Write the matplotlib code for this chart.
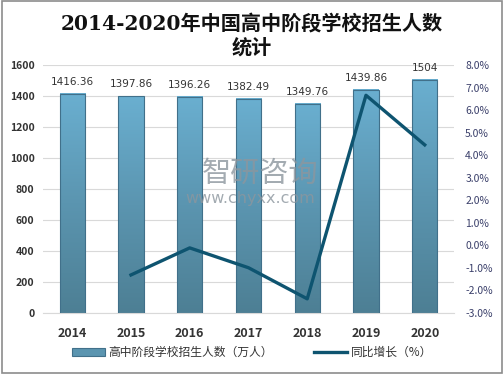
import numpy as np
import matplotlib
matplotlib.use("Agg")
import matplotlib.pyplot as plt
from matplotlib.colors import LinearSegmentedColormap
from matplotlib.patches import Rectangle
from matplotlib.lines import Line2D

plt.rcParams['font.family'] = ['Noto Sans CJK SC', 'DejaVu Sans']

years = ["2014", "2015", "2016", "2017", "2018", "2019", "2020"]
enroll = [1416.36, 1397.86, 1396.26, 1382.49, 1349.76, 1439.86, 1504]
enroll_labels = ["1416.36", "1397.86", "1396.26", "1382.49", "1349.76", "1439.86", "1504"]
growth_years = ["2015", "2016", "2017", "2018", "2019", "2020"]
growth = [-1.31, -0.11, -0.99, -2.37, 6.66, 4.46]

fig = plt.figure(figsize=(5.04, 3.74), dpi=100)
fig.patches.append(Rectangle((0.003, 0.003), 0.994, 0.994, transform=fig.transFigure,
                             fill=False, ec="#8c8c8c", lw=1.2))
ax = fig.add_axes([0.085, 0.163, 0.816, 0.663])
ax2 = ax.twinx()

x = np.arange(len(years))
w = 0.43
cmap = LinearSegmentedColormap.from_list("b", ["#4d7f94", "#5b95b0", "#6aafd0"])
grad = np.linspace(0, 1, 256).reshape(-1, 1)
for xi, v, lab in zip(x, enroll, enroll_labels):
    ax.imshow(grad, cmap=cmap, origin="lower", aspect="auto",
              extent=[xi - w/2, xi + w/2, 0, v], zorder=2)
    ax.add_patch(Rectangle((xi - w/2, 0), w, v, fill=False, ec="#41708a", lw=0.8, zorder=3))
    ax.text(xi, v + 45, lab, ha="center", va="bottom", fontsize=7.5, color="#333333",
            family="DejaVu Sans", zorder=4)

ax.set_xlim(-0.5, 6.5)
ax.set_ylim(0, 1600)
ax.set_yticks(range(0, 1601, 200))
ax.grid(axis="y", color="#d9d9d9", lw=0.8, zorder=0)
ax.set_axisbelow(True)
ax.set_xticks(x)
ax.set_xticklabels(years, fontsize=9, fontweight="bold", color="#333333")
ax.tick_params(axis="y", labelsize=7.5, colors="#333333", length=0, pad=6)
ax.tick_params(axis="x", length=0, pad=10)
for t in ax.get_yticklabels():
    t.set_fontweight("bold")
for s in ax.spines.values():
    s.set_visible(False)
ax.spines["bottom"].set_visible(True)
ax.spines["bottom"].set_color("#d9d9d9")

gx = [years.index(y) for y in growth_years]
ax2.plot(gx, growth, color="#0e5470", lw=2.4, zorder=5)
ax2.set_ylim(-3, 8)
ax2.set_yticks(range(-3, 9))
ax2.set_yticklabels([f"{v:.1f}%" for v in range(-3, 9)])
ax2.tick_params(axis="y", labelsize=7.5, colors="#3a3f6a", length=0, pad=8)
for s in ax2.spines.values():
    s.set_visible(False)

fig.text(0.5, 0.905, "2014-2020年中国高中阶段学校招生人数\n统计", ha="center", va="center",
         fontsize=14.5, fontweight="bold", color="#111111", linespacing=1.2,
         family=["DejaVu Serif", "Noto Sans CJK SC"])

# watermark
fig.text(0.515, 0.535, "智研咨询", ha="center", va="center", fontsize=21,
         color="#8c969e", alpha=0.8, zorder=10)
fig.text(0.497, 0.468, "www.chyxx.com", ha="center", va="center", fontsize=11.5,
         color="#8c969e", alpha=0.8, zorder=10, family="DejaVu Sans")

handles = [Rectangle((0, 0), 1, 1, fc="#5b95b0", ec="#41708a", lw=0.8),
           Line2D([0], [0], color="#0e5470", lw=2.4)]
fig.legend(handles, ["高中阶段学校招生人数（万人）", "同比增长（%）"], loc="center",
           bbox_to_anchor=(0.5, 0.058), ncol=2, frameon=False, fontsize=8.5,
           handlelength=2.8, columnspacing=3.5, handletextpad=0.3,
           labelcolor="#333333")

fig.savefig("out.png", dpi=100)
